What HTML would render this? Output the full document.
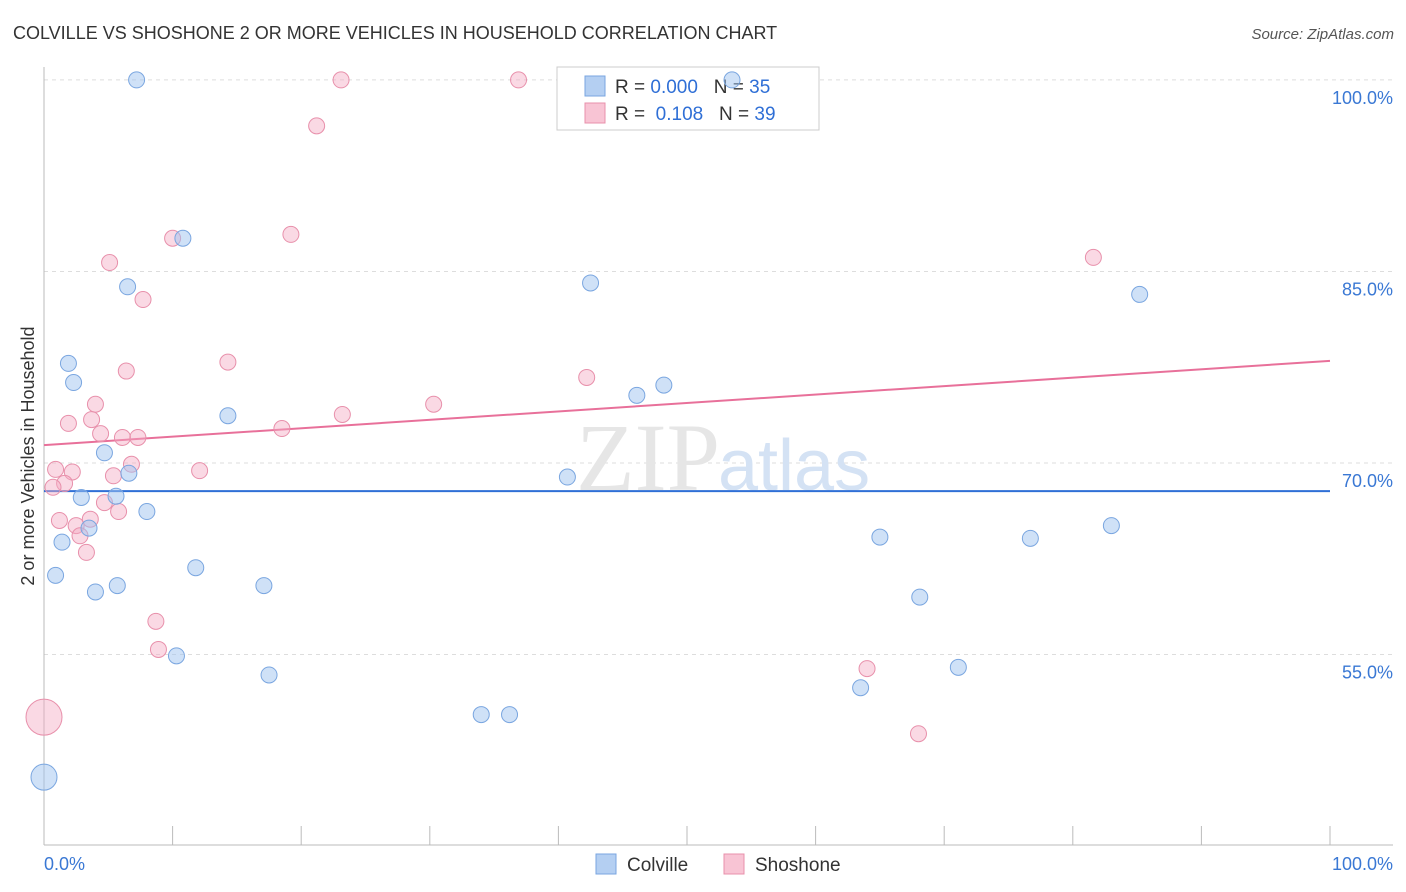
<!DOCTYPE html>
<html><head><meta charset="utf-8">
<style>
body{margin:0;background:#fff;font-family:"Liberation Sans",sans-serif;}
#wrap{position:relative;width:1406px;height:892px;overflow:hidden;}
.pre{white-space:pre;}
</style></head>
<body>
<div id="wrap">
<svg id="svg" width="1406" height="892" xmlns="http://www.w3.org/2000/svg">
<text x="13" y="39" font-size="18" fill="#333">COLVILLE VS SHOSHONE 2 OR MORE VEHICLES IN HOUSEHOLD CORRELATION CHART</text>
<text x="1394" y="39" font-size="15" fill="#555" font-style="italic" text-anchor="end">Source: ZipAtlas.com</text>
<g id="grid"></g>
<text x="720" y="490" font-size="96" fill="#e6e6e6" text-anchor="end" font-family="Liberation Serif">ZIP</text>
<text x="718" y="490" font-size="72" fill="#d4e2f4">atlas</text>
<g>
<rect x="557" y="67" width="262" height="63" fill="#fff" stroke="#ccc"/>
<rect x="585" y="76" width="20" height="20" fill="#b4cff2" stroke="#7aa6e0"/>
<text x="615" y="93" font-size="19" fill="#333" class="pre">R = <tspan fill="#2f6fd6">0.000</tspan>   N = <tspan fill="#2f6fd6">35</tspan></text>
<rect x="585" y="103" width="20" height="20" fill="#f8c4d4" stroke="#e890ab"/>
<text x="615" y="120" font-size="19" fill="#333" class="pre">R =  <tspan fill="#2f6fd6">0.108</tspan>   N = <tspan fill="#2f6fd6">39</tspan></text>
</g>
<g id="lines"></g>
<g id="pts"></g>
<text x="34" y="456" font-size="18" fill="#333" text-anchor="middle" transform="rotate(-90 34 456)">2 or more Vehicles in Household</text>
<g>
<rect x="596" y="854" width="20" height="20" fill="#b4cff2" stroke="#7aa6e0"/>
<text x="627" y="871" font-size="19" fill="#333">Colville</text>
<rect x="724" y="854" width="20" height="20" fill="#f8c4d4" stroke="#e890ab"/>
<text x="755" y="871" font-size="19" fill="#333">Shoshone</text>
</g>
</svg>
</div>
<script>
const yTicks=[55,70,85,100];
const yTickLabels=["55.0%","70.0%","85.0%","100.0%"];
const xTickLabels=["0.0%","100.0%"];
const colvilleX=[7.2,10.8,6.5,42.5,1.9,2.3,14.3,4.7,6.6,2.9,5.6,8.0,3.5,1.4,0.9,4.0,5.7,11.8,17.1,10.3,17.5,34.0,36.2,40.7,46.1,48.2,53.5,65.0,68.1,76.7,83.0,85.2,63.5,71.1,0];
const colvilleY=[100,87.6,83.8,84.1,77.8,76.3,73.7,70.8,69.2,67.3,67.4,66.2,64.9,63.8,61.2,59.9,60.4,61.8,60.4,54.9,53.4,50.3,50.3,68.9,75.3,76.1,100,64.2,59.5,64.1,65.1,83.2,52.4,54.0,45.4];
const shoshoneX=[23.1,36.9,21.2,10.0,19.2,5.1,7.7,14.3,6.4,4.0,3.7,1.9,4.4,6.1,7.3,6.8,0.9,2.2,5.4,12.1,1.6,0.7,4.7,5.8,3.6,1.2,2.5,2.8,3.3,8.7,8.9,18.5,23.2,30.3,42.2,81.6,64.0,68.0,0];
const shoshoneY=[100,100,96.4,87.6,87.9,85.7,82.8,77.9,77.2,74.6,73.4,73.1,72.3,72.0,72.0,69.9,69.5,69.3,69.0,69.4,68.4,68.1,66.9,66.2,65.6,65.5,65.1,64.3,63.0,57.6,55.4,72.7,73.8,74.6,76.7,86.1,53.9,48.8,50.1];
const colvilleFit=[67.8,67.8];
const shoshoneFit=[71.4,78.0];
const NS="http://www.w3.org/2000/svg";
const X=v=>44+v*12.86;
const Y=v=>463-(v-70)*12.77;
function mk(t,a,p){const e=document.createElementNS(NS,t);for(const k in a)e.setAttribute(k,a[k]);p.appendChild(e);return e;}
const grid=document.getElementById('grid');
yTicks.forEach((t,i)=>{
 const l=mk('line',{x1:44,x2:1393,y1:Y(t),y2:Y(t),stroke:'#ddd','stroke-dasharray':'4,4'},grid);
 
 
 const tx=mk('text',{x:1393,y:Y(t)+24,'font-size':18,fill:'#3a78d4','text-anchor':'end'},grid);
 tx.textContent=yTickLabels[i];
 
 
});
const ax=mk('line',{x1:44,x2:44,y1:67,y2:845,stroke:'#bbb'},grid);


const bx=mk('line',{x1:44,x2:1393,y1:845,y2:845,stroke:'#bbb'},grid);


for(let i=1;i<=10;i++){const t=mk('line',{x1:X(i*10),x2:X(i*10),y1:826,y2:845,stroke:'#bbb'},grid);
 
 }
[[0,'start',44],[100,'end',1393]].forEach((d,i)=>{const t=mk('text',{x:d[2],y:870,'font-size':18,fill:'#3a78d4','text-anchor':d[1]},grid);t.textContent=xTickLabels[i];
 
 });
const lines=document.getElementById('lines');
const lb=mk('line',{x1:X(0),x2:X(100),y1:Y(colvilleFit[0]),y2:Y(colvilleFit[1]),stroke:'#2f6fd6','stroke-width':2},lines);


const lp=mk('line',{x1:X(0),x2:X(100),y1:Y(shoshoneFit[0]),y2:Y(shoshoneFit[1]),stroke:'#e8709a','stroke-width':2},lines);


const pts=document.getElementById('pts');
shoshoneX.forEach((x,i)=>{const r=x===0?18:8;const c=mk('circle',{cx:X(x),cy:Y(shoshoneY[i]),r:r,fill:'rgba(245,170,195,0.45)',stroke:'#e890ab','stroke-width':1},pts);
 
 });
colvilleX.forEach((x,i)=>{const r=x===0?13:8;const c=mk('circle',{cx:X(x),cy:Y(colvilleY[i]),r:r,fill:'rgba(160,195,240,0.5)',stroke:'#7aa6e0','stroke-width':1},pts);
 
 });
</script>
</body></html>
